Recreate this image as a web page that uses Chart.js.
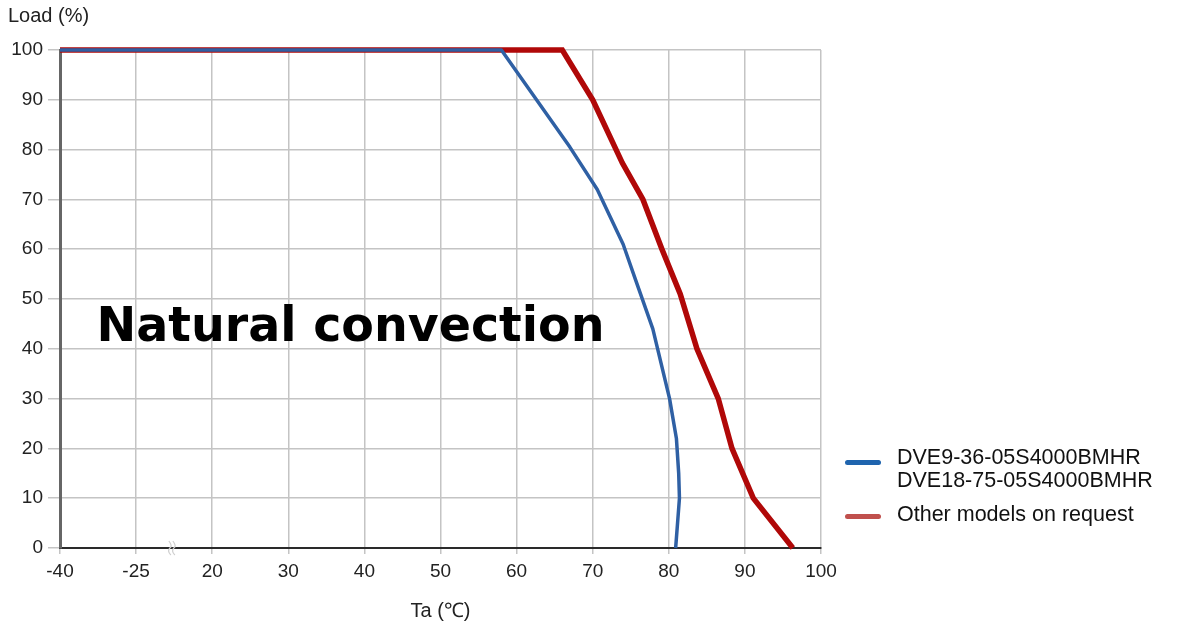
<!DOCTYPE html>
<html lang="en">
<head>
    <meta charset="UTF-8">
    <title>Derating curve</title>
    <script src="https://cdn.jsdelivr.net/npm/chart.js"></script>
    <style>
        body { margin: 0; background: #fff; font-family: "Liberation Sans", Arial, sans-serif; }
        #wrap { position: relative; width: 1181px; height: 628px; }
        #yTitle { position: absolute; left: 8px; top: 4px; font-size: 20px; color: #222; }
        .legend { position: absolute; left: 845px; font-size: 21.5px; color: #111; line-height: 23px; }
        .swatch { position: absolute; left: 0; width: 36px; height: 5px; border-radius: 3px; }
        .legend span.txt { position: absolute; left: 52px; white-space: nowrap; }
    </style>
</head>
<body>
<div id="wrap">
    <canvas id="derating" width="1181" height="628"></canvas>
    <div id="yTitle">Load (%)</div>
    <div class="legend" style="top:446px">
        <div class="swatch" style="top:14px;background:#1f64ae"></div>
        <span class="txt">DVE9-36-05S4000BMHR<br>DVE18-75-05S4000BMHR</span>
    </div>
    <div class="legend" style="top:503px">
        <div class="swatch" style="top:11px;background:#c0504d"></div>
        <span class="txt">Other models on request</span>
    </div>
</div>

<script>
// Подписи делений оси X (ось с разрывом между -25 и 20)
var xTickLabels = ['-40', '-25', '20', '30', '40', '50', '60', '70', '80', '90', '100'];

// Синяя кривая: DVE9-36 / DVE18-75
var blueTemp = [-40, 58, 67, 70.6, 74, 75.6, 77.9, 80.1, 81, 81.3, 81.4, 81.1, 80.9];
var blueLoad = [100, 100, 80.5, 72, 61, 54, 44, 30, 22, 15, 10, 4, 0];

// Красная кривая: остальные модели
var redTemp = [-40, 66, 70, 73.9, 76.6, 79.1, 81.5, 83.7, 86.5, 88.3, 91.1, 96.3];
var redLoad = [100, 100, 90, 77.3, 70, 60, 51, 40, 30, 20, 10, 0];

// температура -> позиция на оси с разрывом
function toAxis(t) {
    if (t <= -25) return (t + 40) / 15;
    return 2 + (t - 20) / 10;
}

function toPoints(temps, loads) {
    return temps.map(function (t, i) { return { x: toAxis(t), y: loads[i] }; });
}

var annotations = {
    id: 'annotations',
    afterDatasetsDraw: function (chart) {
        var ctx = chart.ctx;
        var xs = chart.scales.x, ys = chart.scales.y;
        ctx.save();
        ctx.fillStyle = '#000';
        ctx.font = 'bold 47.5px "DejaVu Sans", sans-serif';
        ctx.textBaseline = 'alphabetic';
        ctx.fillText('Natural convection', xs.getPixelForValue(0.48), ys.getPixelForValue(41.6));
        // значок разрыва оси
        var bx = xs.getPixelForValue(1.47), by = ys.getPixelForValue(0);
        ctx.strokeStyle = '#cfcfcf';
        ctx.lineWidth = 1.2;
        [-2, 2].forEach(function (dx) {
            ctx.beginPath();
            ctx.moveTo(bx + dx - 1, by - 7);
            ctx.quadraticCurveTo(bx + dx + 3, by - 2, bx + dx, by);
            ctx.quadraticCurveTo(bx + dx - 3, by + 3, bx + dx + 1, by + 7);
            ctx.stroke();
        });
        ctx.restore();
    }
};

var tickFont = { family: '"Liberation Sans", Arial, sans-serif', size: 19 };

var ctx = document.getElementById('derating').getContext('2d');
var chart = new Chart(ctx, {
    type: 'line',
    data: {
        datasets: [{
            label: 'DVE9-36-05S4000BMHR / DVE18-75-05S4000BMHR',
            data: toPoints(blueTemp, blueLoad),
            borderColor: '#2f60a4',
            borderWidth: 3.5,
            pointRadius: 0,
            tension: 0,
            borderJoinStyle: 'round',
            clip: false
        }, {
            label: 'Other models on request',
            data: toPoints(redTemp, redLoad),
            borderColor: '#b00808',
            borderWidth: 5.5,
            pointRadius: 0,
            tension: 0,
            clip: false
        }]
    },
    options: {
        responsive: false,
        animation: false,
        layout: { padding: { top: 50, right: 360, left: 0, bottom: 0 } },
        plugins: { legend: { display: false }, tooltip: { enabled: false } },
        scales: {
            x: {
                type: 'linear',
                min: 0,
                max: 10,
                afterFit: function (scale) { scale.height = 80; },
                ticks: {
                    stepSize: 1,
                    autoSkip: false,
                    maxRotation: 0,
                    color: '#222',
                    padding: 6,
                    font: tickFont,
                    callback: function (v) { return xTickLabels[v]; }
                },
                grid: { color: '#c4c4c4', lineWidth: 1.5, tickLength: 6 },
                border: { color: '#2a2a2a', width: 2 },
                title: {
                    display: true,
                    text: 'Ta (℃)',
                    color: '#222',
                    font: { family: '"Liberation Sans", Arial, sans-serif', size: 20 },
                    padding: { bottom: 5 }
                }
            },
            y: {
                min: 0,
                max: 100,
                afterFit: function (scale) { scale.width = 60; },
                ticks: {
                    stepSize: 10,
                    color: '#222',
                    padding: 5,
                    font: tickFont
                },
                grid: { color: '#c4c4c4', lineWidth: 1.5, tickLength: 12 },
                border: { color: '#666', width: 3 }
            }
        }
    },
    plugins: [annotations]
});
</script>
</body>
</html>
